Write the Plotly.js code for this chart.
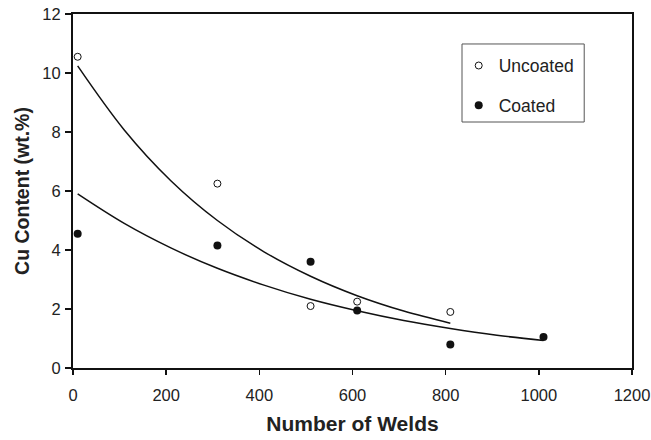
<!DOCTYPE html>
<html>
<head>
<meta charset="utf-8">
<script src="https://cdn.plot.ly/plotly-3.0.1.min.js"></script>
<style>html,body{margin:0;padding:0;background:#fff;}#chart{width:651px;height:440px;}</style>
</head>
<body>
<div id="chart"></div>
<script>
// Measured points
const uncoatedWelds = [10, 310, 510, 610, 810];
const uncoatedCu = [10.55, 6.25, 2.1, 2.25, 1.9];
const coatedWelds = [10, 310, 510, 610, 810, 1010];
const coatedCu = [4.55, 4.15, 3.6, 1.95, 0.8, 1.05];

// Trend curves
const uncoatedTrendX = [10, 110, 210, 310, 410, 510, 610, 710, 810];
const uncoatedTrendY = [10.24, 8.07, 6.35, 5.0, 3.94, 3.11, 2.45, 1.93, 1.52];
const coatedTrendX = [10, 110, 210, 310, 410, 510, 610, 710, 810, 910, 1010];
const coatedTrendY = [5.9, 4.9, 4.07, 3.38, 2.81, 2.33, 1.94, 1.61, 1.34, 1.11, 0.93];

const xTicks = [0, 200, 400, 600, 800, 1000, 1200];
const yTicks = [0, 2, 4, 6, 8, 10, 12];

const FONT = 'Arial, "Liberation Sans", Helvetica, sans-serif';

const traces = [
  {x: uncoatedTrendX, y: uncoatedTrendY, mode: 'lines', line: {color: '#111', width: 1.5, shape: 'spline'}, showlegend: false, hoverinfo: 'skip'},
  {x: coatedTrendX, y: coatedTrendY, mode: 'lines', line: {color: '#111', width: 1.5, shape: 'spline'}, showlegend: false, hoverinfo: 'skip'},
  {x: uncoatedWelds, y: uncoatedCu, mode: 'markers', name: 'Uncoated', legendgroup: 'a',
   marker: {symbol: 'circle-open', size: 7, color: '#111', line: {width: 1, color: '#111'}}},
  {x: coatedWelds, y: coatedCu, mode: 'markers', name: 'Coated', legendgroup: 'b',
   marker: {symbol: 'circle', size: 8, color: '#111'}}
];

const layout = {
  width: 651, height: 440,
  margin: {l: 72.7, r: 18.5, t: 14.4, b: 72.2},
  paper_bgcolor: '#fff', plot_bgcolor: '#fff',
  font: {family: FONT, color: '#222', size: 16.5},
  showlegend: true,
  legend: {
    x: 0.69, y: 0.905, xanchor: 'left', yanchor: 'top',
    bgcolor: 'rgba(0,0,0,0)', borderwidth: 0,
    font: {family: FONT, size: 17.5, color: '#222'},
    traceorder: 'grouped', tracegroupgap: 14
  },
  shapes: [{
    type: 'rect', xref: 'paper', yref: 'paper',
    x0: 0.6959, x1: 0.9145, y0: 0.6949, y1: 0.9153,
    line: {color: '#555', width: 1}, fillcolor: 'rgba(0,0,0,0)'
  }],
  xaxis: {
    range: [0, 1200], tickvals: xTicks, ticktext: xTicks.map(String),
    showgrid: false, zeroline: false,
    showline: true, linecolor: '#111', linewidth: 2, mirror: true,
    ticks: 'outside', ticklen: 5, tickwidth: 1.5, tickcolor: '#111',
    ticklabelstandoff: 6,
    tickfont: {family: FONT, size: 16.5, color: '#222'},
    title: {text: '<b>Number of Welds</b>', font: {family: FONT, size: 21, color: '#222'}, standoff: 14}
  },
  yaxis: {
    range: [0, 12], tickvals: yTicks, ticktext: yTicks.map(String),
    showgrid: false, zeroline: false,
    showline: true, linecolor: '#111', linewidth: 2, mirror: true,
    ticks: 'outside', ticklen: 6, tickwidth: 1.5, tickcolor: '#111',
    ticklabelstandoff: 1,
    tickfont: {family: FONT, size: 16.5, color: '#222'},
    title: {text: '<b>Cu Content (wt.%)</b>', font: {family: FONT, size: 19.5, color: '#222'}, standoff: 8}
  }
};

Plotly.newPlot('chart', traces, layout, {displayModeBar: false, staticPlot: true});
</script>
</body>
</html>
